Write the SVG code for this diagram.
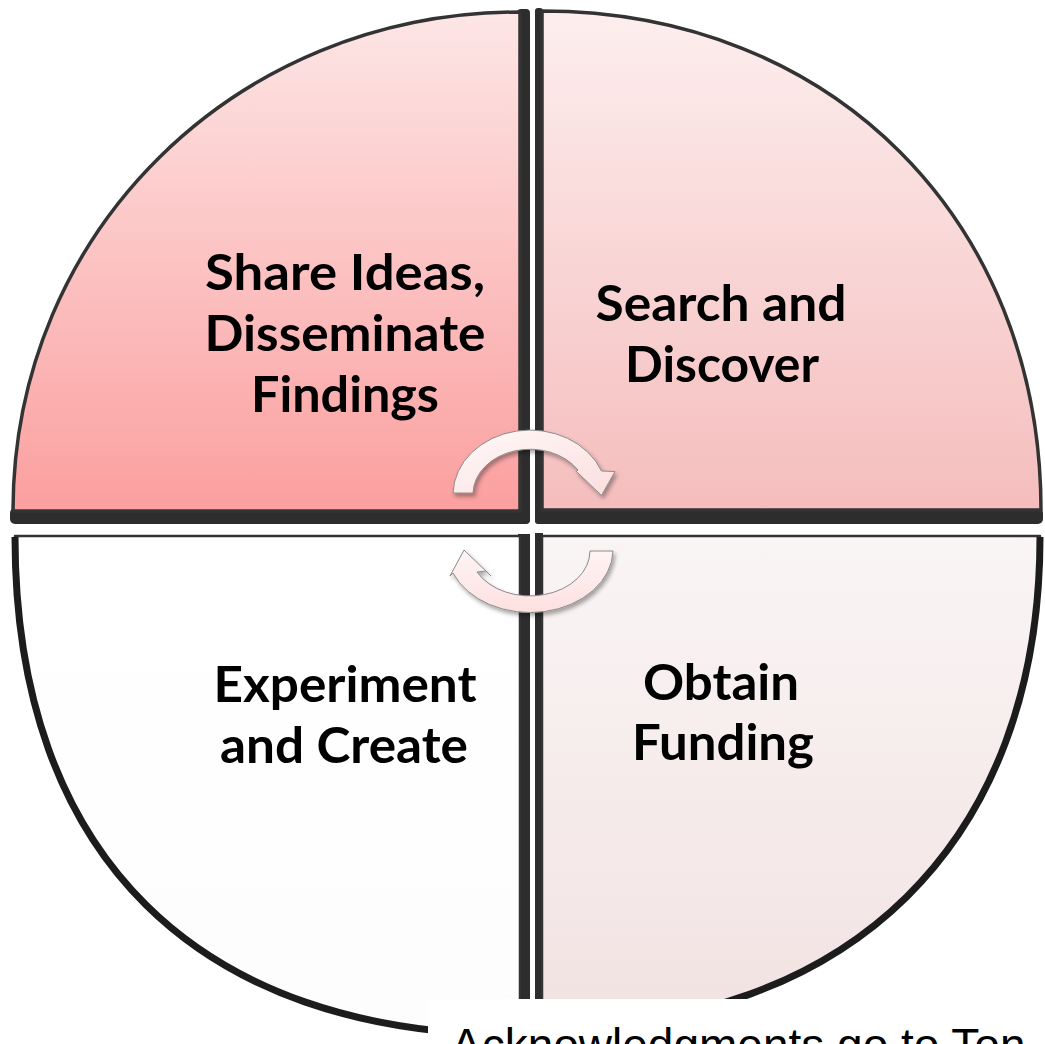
<svg xmlns="http://www.w3.org/2000/svg" width="1045" height="1044" viewBox="0 0 1045 1044">
<defs>
<linearGradient id="gTL" gradientUnits="userSpaceOnUse" x1="0" y1="12" x2="0" y2="511"><stop offset="0" stop-color="#fde6e6"/><stop offset="1" stop-color="#fb9f9f"/></linearGradient>
<linearGradient id="gTR" gradientUnits="userSpaceOnUse" x1="0" y1="12" x2="0" y2="510"><stop offset="0" stop-color="#fdeeee"/><stop offset="1" stop-color="#f5bdbd"/></linearGradient>
<linearGradient id="gLL" gradientUnits="userSpaceOnUse" x1="0" y1="537" x2="0" y2="1035"><stop offset="0" stop-color="#ffffff"/><stop offset="1" stop-color="#fdfdfd"/></linearGradient>
<linearGradient id="gLR" gradientUnits="userSpaceOnUse" x1="0" y1="537" x2="0" y2="1028"><stop offset="0" stop-color="#faf5f5"/><stop offset="1" stop-color="#f2e2e2"/></linearGradient>
<linearGradient id="gA1" x1="0" y1="0" x2="1" y2="1"><stop offset="0" stop-color="#fff8f8"/><stop offset="1" stop-color="#fcdede"/></linearGradient>
<linearGradient id="gA2" x1="0" y1="0" x2="0" y2="1"><stop offset="0" stop-color="#fff4f4"/><stop offset="1" stop-color="#fde0e0"/></linearGradient>
<filter id="sh" x="-20%" y="-20%" width="140%" height="140%"><feDropShadow dx="2" dy="3" stdDeviation="2" flood-color="#000" flood-opacity="0.35"/></filter>
<style>
.band{fill:#2d2d2d}
.edge{stroke:#333;stroke-width:3.5;stroke-linejoin:round}
.arc{fill:none;stroke:#1c1c1c;stroke-width:7}
.lbl{font-family:Lato,"Open Sans","Liberation Sans",sans-serif;font-weight:700;font-size:50px;fill:#000;text-anchor:middle}
.arrow{stroke:#8a8a8a;stroke-width:1;filter:url(#sh)}
</style>
</defs>
<rect width="1045" height="1044" fill="#fff"/>

<g id="node-share">
<rect class="band" x="517" y="9" width="13" height="515" rx="4"/>
<rect class="band" x="10" y="508" width="520" height="16" rx="5"/>
<path class="edge" fill="url(#gTL)" d="M520,511 L13,511 C13,231.6 236.1,12 520,12 Z"/>
<text class="lbl" x="345" y="290" textLength="280" lengthAdjust="spacingAndGlyphs">Share Ideas,</text>
<text class="lbl" x="345" y="351" textLength="281" lengthAdjust="spacingAndGlyphs">Disseminate</text>
<text class="lbl" x="345" y="412" textLength="188" lengthAdjust="spacingAndGlyphs">Findings</text>
</g>

<g id="node-search">
<rect class="band" x="535" y="8" width="8" height="516" rx="3"/>
<rect class="band" x="535" y="508" width="508" height="16" rx="5"/>
<path class="edge" fill="url(#gTR)" d="M542,510 L542,11 C831.4,11 1041,220.6 1041,510 Z"/>
<text class="lbl" x="721" y="321" textLength="251" lengthAdjust="spacingAndGlyphs">Search and</text>
<text class="lbl" x="722" y="382" textLength="194" lengthAdjust="spacingAndGlyphs">Discover</text>
</g>

<g id="node-experiment">
<rect class="band" x="518" y="534" width="12" height="470"/>
<path class="edge" fill="url(#gLL)" d="M520,536 L15,536 C15,855 196.8,1035 520,1035 Z" style="stroke-width:2.5"/>
<path class="arc" d="M15,537 C15,855 196.8,1035 520,1035"/>
<text class="lbl" x="345" y="702" textLength="263" lengthAdjust="spacingAndGlyphs">Experiment</text>
<text class="lbl" x="344" y="763" textLength="248" lengthAdjust="spacingAndGlyphs">and Create</text>
</g>

<g id="node-funding">
<rect class="band" x="535" y="533" width="8" height="470"/>
<path class="edge" fill="url(#gLR)" d="M542,536 L1040,536 C1040,841.4 850.8,1028 542,1028 Z" style="stroke-width:2.5"/>
<path class="arc" d="M1040,537 C1040,841.4 850.8,1028 542,1028"/>
<text class="lbl" x="721" y="700" textLength="156" lengthAdjust="spacingAndGlyphs">Obtain</text>
<text class="lbl" x="723" y="760" textLength="182" lengthAdjust="spacingAndGlyphs">Funding</text>
</g>

<g id="connectors">
<path class="arrow" fill="url(#gA1)" d="M453,493 A77,65 0 0 1 601.5,471 L615,471.5 L601.5,495.5 L576.5,471.5 L578,470 A57,45 0 0 0 473,493 Z"/>
<path class="arrow" fill="url(#gA2)" d="M613,551 A83,63 0 0 1 453,573 L450,576 L464,550 L491,576 L486,571 L477,572 A60,45 0 0 0 590,551 Z"/>
</g>

<g id="caption">
<rect x="428" y="999" width="617" height="45" fill="#fff"/>
<text x="451" y="1061" font-family="'Liberation Sans',Arial,sans-serif" font-size="46" fill="#000">Acknowledgments go to Ton</text>
</g>
</svg>
